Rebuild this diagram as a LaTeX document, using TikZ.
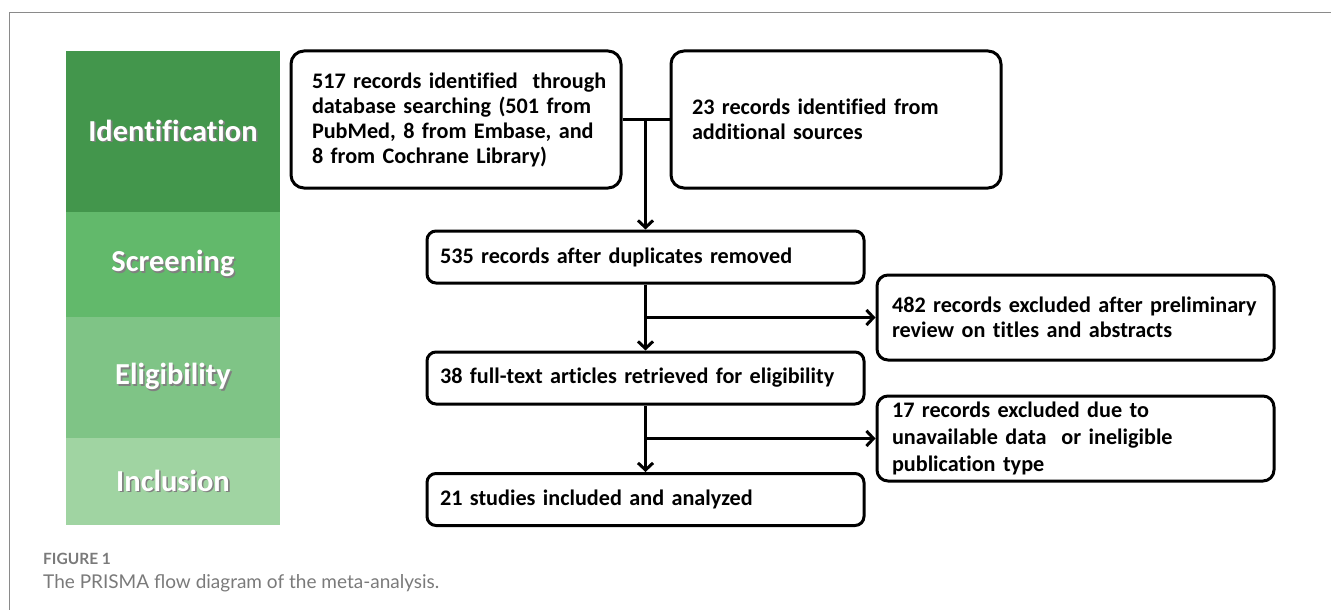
\documentclass[tikz,border=0pt]{standalone}
\usepackage{fontspec}
\setmainfont{Carlito}[Ligatures={NoCommon}]
\newfontfamily\boxfont{Carlito}[Ligatures={NoCommon}, WordSpace={0.72}]
\newfontfamily\capfont{Lato}
\usetikzlibrary{arrows.meta}

\definecolor{stageA}{HTML}{43964C}
\definecolor{stageB}{HTML}{62B96B}
\definecolor{stageC}{HTML}{7FC486}
\definecolor{stageD}{HTML}{A0D4A2}
\definecolor{framegray}{HTML}{8A8A8A}
\definecolor{captiongray}{HTML}{7A7A7A}

% label with a soft drop shadow
\newcommand\shadowlabel[1]{\rlap{\kern1.6pt\raisebox{-1.6pt}{\color{black!50}#1}}#1}
% one line of box text that is never broken
\newcommand\boxline[1]{\leavevmode\hbox{#1}}

\tikzset{
  stage/.style={fill=#1, draw=none, minimum width=214pt, inner sep=0pt,
    font=\bfseries\fontsize{30.5}{33}\selectfont, text=white},
  flowbox/.style={draw=black, line width=3pt, rounded corners=9pt, inner ysep=0pt,
    align=left, font=\boxfont\bfseries\fontsize{22.2}{25}\selectfont},
  link/.style={line width=3pt, draw=black},
  linkarrow/.style={link, -{Straight Barb[length=7pt,width=15pt]}}
}

\begin{document}
\begin{tikzpicture}[x=1pt, y=-1pt]
\useasboundingbox (0,0) rectangle (1331,610);

% page frame
\draw[framegray, line width=1.5pt] (9.5,610) -- (9.5,12.5) -- (1331,12.5);

% stage column
\node[stage=stageA, minimum height=161pt] (sId) at (173,131.5) {\shadowlabel{Identification}};
\node[stage=stageB, minimum height=105pt] (sSc) at (173,264.5) {\shadowlabel{Screening}};
\node[stage=stageC, minimum height=121pt] (sEl) at (173,377.5) {\shadowlabel{Eligibility}};
\node[stage=stageD, minimum height=87pt]  (sIn) at (173,481.5) {\shadowlabel{Inclusion}};

% flow boxes
\node[flowbox, rounded corners=13pt, minimum width=330pt, minimum height=137pt,
      inner xsep=21pt, text width=288pt] (dbs) at (456,119.5)
  {\boxline{517 records identified\ \ through}\\\boxline{database searching (501 from}\\\boxline{PubMed, 8 from Embase, and}\\\boxline{8 from Cochrane Library)}};
\node[flowbox, rounded corners=13pt, minimum width=330pt, minimum height=137pt,
      inner xsep=21pt, text width=288pt] (add) at (836,119.5)
  {\boxline{23 records identified from}\\\boxline{additional sources}};
\node[flowbox, minimum width=437pt, minimum height=52pt,
      inner xsep=13pt, text width=411pt] (dup) at (645.5,257)
  {\boxline{535 records after duplicates removed}};
\node[flowbox, rounded corners=11pt, minimum width=397pt, minimum height=85pt,
      inner xsep=15pt, text width=367pt] (exc1) at (1075.5,317.5)
  {\boxline{482 records excluded after preliminary}\\\boxline{review on titles and abstracts}};
\node[flowbox, minimum width=437pt, minimum height=52pt,
      inner xsep=13pt, text width=411pt] (full) at (645.5,378)
  {\boxline{38 full-text articles retrieved for eligibility}};
\node[flowbox, rounded corners=11pt, minimum width=397pt, minimum height=85pt,
      inner xsep=15pt, text width=367pt,
      font=\boxfont\bfseries\fontsize{22.2}{27}\selectfont] (exc2) at (1075.5,438.5)
  {\boxline{17 records excluded due to}\\\boxline{unavailable data\ \ or ineligible}\\\boxline{publication type}};
\node[flowbox, minimum width=437pt, minimum height=52pt,
      inner xsep=13pt, text width=411pt] (incl) at (645.5,499.5)
  {\boxline{21 studies included and analyzed}};

% connectors
\coordinate (join) at (dup.north |- dbs.east);
\draw[link] (dbs.east) -- (add.west);
\draw[linkarrow] (join) -- (dup.north);
\draw[linkarrow] (dup.south) -- (full.north);
\draw[linkarrow] (dup.south |- exc1.west) -- (exc1.west);
\draw[linkarrow] (full.south) -- (incl.north);
\draw[linkarrow] (full.south |- exc2.west) -- (exc2.west);

% caption
\node[anchor=base west, inner sep=0pt, text=captiongray,
      font=\capfont\bfseries\fontsize{15.5}{18}\selectfont] (figno) at (43,564) {FIGURE 1};
\node[anchor=base west, inner sep=0pt, text=captiongray,
      font=\capfont\fontsize{19}{23}\selectfont] (figcap) at (43,588)
  {The PRISMA flow diagram of the meta-analysis.};
\end{tikzpicture}
\end{document}
